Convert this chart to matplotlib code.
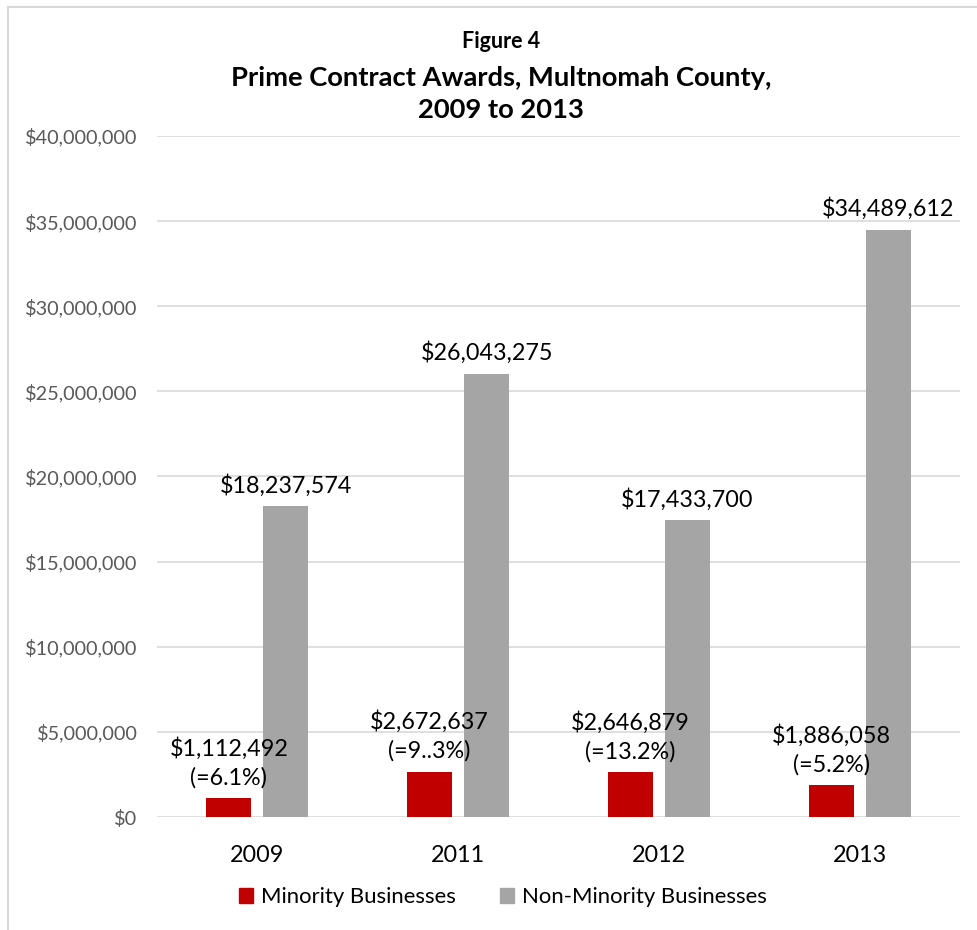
import matplotlib.pyplot as plt
import numpy as np
from matplotlib.lines import Line2D
from matplotlib.patches import Patch
from matplotlib.ticker import FuncFormatter

plt.rcParams['font.family'] = ['Lato', 'DejaVu Sans']

years = ['2009', '2011', '2012', '2013']
minority = [1112492, 2672637, 2646879, 1886058]
non_minority = [18237574, 26043275, 17433700, 34489612]
minority_share = ['(=6.1%)', '(=9..3%)', '(=13.2%)', '(=5.2%)']

red = '#C00000'
gray = '#A5A5A5'
grid_col = '#D9D9D9'

fig = plt.figure(figsize=(9.77, 9.30), dpi=100)
ax = fig.add_axes([0.1607, 0.1215, 0.8219, 0.7323])

x = np.arange(len(years))
w = 0.224
off = 0.142
ax.bar(x - off, minority, w, color=red, zorder=3)
ax.bar(x + off, non_minority, w, color=gray, zorder=3)

for xi, v, pct in zip(x, minority, minority_share):
    ax.annotate('${:,.0f}\n{}'.format(v, pct), (xi - off, v), xytext=(0, 7),
                textcoords='offset points', ha='center', va='bottom',
                fontsize=16.8, linespacing=1.4)
for xi, v in zip(x, non_minority):
    ax.annotate('${:,.0f}'.format(v), (xi + off, v), xytext=(0, 7),
                textcoords='offset points', ha='center', va='bottom',
                fontsize=16.8)

ax.set_xlim(-0.5, len(years) - 0.5)
ax.set_ylim(0, 40000000)
ax.set_yticks(np.arange(0, 40000001, 5000000))
ax.yaxis.set_major_formatter(FuncFormatter(lambda v, p: '${:,.0f}'.format(v)))
ax.set_xticks(x)
ax.set_xticklabels(years)
ax.tick_params(axis='y', length=0, pad=14, labelsize=14.3, labelcolor='#595959')
ax.tick_params(axis='x', length=0, pad=20, labelsize=16.8)
ax.grid(axis='y', color=grid_col, lw=1.2, zorder=0)
for s in ax.spines.values():
    s.set_visible(False)

fig.text(0.513, 1 - 42 / 930, 'Figure 4', ha='center', va='center',
         fontsize=15.5, fontweight='bold')
fig.text(0.513, 1 - 78 / 930, 'Prime Contract Awards, Multnomah County,', ha='center',
         va='center', fontsize=19.7, fontweight='bold')
fig.text(0.513, 1 - 110 / 930, '2009 to 2013', ha='center', va='center',
         fontsize=19.7, fontweight='bold')

handles = [Patch(color=red, label='Minority Businesses'),
           Patch(color=gray, label='Non-Minority Businesses')]
fig.legend(handles=handles, loc='center', bbox_to_anchor=(503 / 977, 1 - 897 / 930),
           ncol=2, frameon=False, fontsize=15.9, handlelength=0.65, handleheight=0.65,
           handletextpad=0.35, columnspacing=2.0)

# outer frame, top and left edges only
fig.add_artist(Line2D([8 / 977, 1], [1 - 7 / 930, 1 - 7 / 930], color=grid_col, lw=1.5,
                      transform=fig.transFigure))
fig.add_artist(Line2D([8 / 977, 8 / 977], [0, 1 - 7 / 930], color=grid_col, lw=1.5,
                      transform=fig.transFigure))

fig.savefig('out.png', dpi=100)
